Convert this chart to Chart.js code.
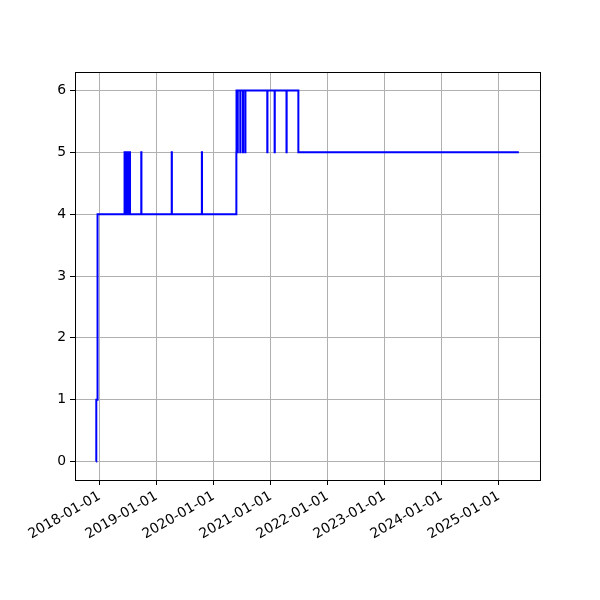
<!DOCTYPE html>
<html>
<head>
<meta charset="utf-8">
<script src="https://cdn.jsdelivr.net/npm/chart.js@4/dist/chart.umd.min.js"></script>
<style>
  html, body { margin: 0; padding: 0; background: #ffffff; }
  #wrap { width: 600px; height: 600px; }
</style>
</head>
<body>
<div id="wrap"><canvas id="c" width="600" height="600"></canvas></div>
<script>
// Change points of the step series (value becomes `values[i]` at `dates[i]`)
const dates = [
  '2017-12-10', '2017-12-11', '2017-12-19',
  '2018-06-10', '2018-06-11', '2018-06-21', '2018-06-22', '2018-07-03', '2018-07-04', '2018-07-14', '2018-07-15',
  '2018-09-25', '2018-09-26',
  '2019-04-08', '2019-04-09',
  '2019-10-18', '2019-10-19',
  '2020-05-26', '2020-05-27',
  '2020-06-03', '2020-06-04', '2020-06-20', '2020-06-21', '2020-07-07', '2020-07-08', '2020-07-22', '2020-07-23',
  '2020-12-10', '2020-12-11',
  '2021-01-26', '2021-01-27',
  '2021-04-12', '2021-04-13',
  '2021-06-27',
  '2025-05-09'
];
const values = [
  0, 1, 4,
  5, 4, 5, 4, 5, 4, 5, 4,
  5, 4,
  5, 4,
  5, 4,
  5, 6,
  5, 6, 5, 6, 5, 6, 5, 6,
  5, 6,
  5, 6,
  5, 6,
  5,
  5
];
const yTickValues = [0, 1, 2, 3, 4, 5, 6];
const xTickYears = [2018, 2019, 2020, 2021, 2022, 2023, 2024, 2025];

const points = dates.map((d, i) => ({ x: Date.parse(d), y: values[i] }));
const xMinData = Math.min(...points.map(p => p.x));
const xMaxData = Math.max(...points.map(p => p.x));
const xPad = (xMaxData - xMinData) * 0.05;
const yMinData = Math.min(...values), yMaxData = Math.max(...values);
const yPad = (yMaxData - yMinData) * 0.05;

const FONT = { family: "'DejaVu Sans', sans-serif", size: 13.9 };

const frame = {
  id: 'frame',
  afterDraw(chart) {
    const a = chart.chartArea, ctx = chart.ctx;
    ctx.save();
    ctx.strokeStyle = '#000000';
    ctx.lineWidth = 1;
    ctx.strokeRect(Math.round(a.left) + 0.5, Math.round(a.top) + 0.5,
                   Math.round(a.right - a.left), Math.round(a.bottom - a.top));
    ctx.restore();
  }
};

new Chart(document.getElementById('c'), {
  type: 'line',
  data: {
    datasets: [{
      data: points,
      borderColor: '#0000ff',
      borderWidth: 2,
      pointRadius: 0,
      stepped: 'before',
      fill: false
    }]
  },
  options: {
    responsive: false,
    animation: false,
    devicePixelRatio: 1,
    layout: { padding: { top: 72, right: 60, left: 0, bottom: 0 } },
    plugins: { legend: { display: false }, tooltip: { enabled: false } },
    scales: {
      x: {
        type: 'linear',
        min: xMinData - xPad,
        max: xMaxData + xPad,
        afterBuildTicks: s => { s.ticks = xTickYears.map(y => ({ value: Date.UTC(y, 0, 1) })); },
        afterFit: s => { s.height = 120; },
        grid: { color: '#b0b0b0', lineWidth: 1, tickColor: '#000000', tickLength: 5, tickWidth: 1 },
        border: { display: false },
        ticks: {
          color: '#000000', font: FONT, padding: 3,
          minRotation: 30, maxRotation: 30, autoSkip: false,
          callback: v => new Date(v).toISOString().slice(0, 10)
        }
      },
      y: {
        min: yMinData - yPad,
        max: yMaxData + yPad,
        afterBuildTicks: s => { s.ticks = yTickValues.map(v => ({ value: v })); },
        afterFit: s => { s.width = 75; },
        grid: { color: '#b0b0b0', lineWidth: 1, tickColor: '#000000', tickLength: 5, tickWidth: 1 },
        border: { display: false },
        ticks: { color: '#000000', font: FONT, padding: 4, callback: v => String(v) }
      }
    }
  },
  plugins: [frame]
});
</script>
</body>
</html>
